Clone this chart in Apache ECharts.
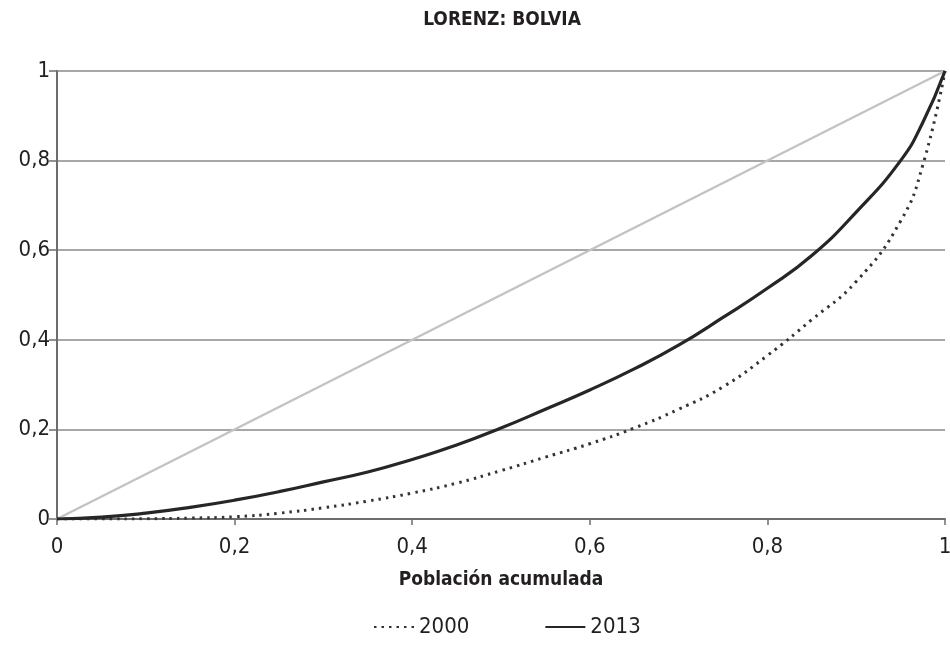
<!DOCTYPE html>
<html>
<head>
<meta charset="utf-8">
<script src="https://cdn.jsdelivr.net/npm/echarts@6/dist/echarts.min.js"></script>
<style>html,body{margin:0;padding:0;background:#fff}#c{width:950px;height:645px}</style>
</head>
<body>
<div id="c"></div>
<script>
var popShare   = [0, 0.05, 0.1, 0.15, 0.2, 0.25, 0.3, 0.35, 0.4, 0.45, 0.5, 0.55, 0.6, 0.65, 0.7, 0.75, 0.8, 0.85, 0.9, 0.95, 0.975, 1];
var share2000  = [0, 0, 0.0005, 0.002, 0.005, 0.013, 0.025, 0.04, 0.058, 0.08, 0.108, 0.138, 0.168, 0.203, 0.245, 0.295, 0.365, 0.445, 0.53, 0.665, 0.79, 1];
var share2013  = [0, 0.004, 0.013, 0.026, 0.042, 0.061, 0.083, 0.105, 0.133, 0.165, 0.203, 0.245, 0.288, 0.335, 0.388, 0.45, 0.515, 0.588, 0.685, 0.80, 0.885, 1];
var equalityX  = [0, 1];
var equalityY  = [0, 1];
var seriesNames = ['2000', '2013'];

function pairs(xs, ys){ return xs.map(function(x,i){ return [x, ys[i]]; }); }
function fmt(v){ return String(+v.toFixed(2)).replace('.', ','); }

var FONT = '"DejaVu Sans Condensed","Liberation Sans Narrow","Roboto",sans-serif';
var TXT = '#231f20';

var chart = echarts.init(document.getElementById('c'), null, {renderer:'canvas'});
chart.setOption({
  animation:false,
  backgroundColor:'#fff',
  title:{ text:'LORENZ: BOLVIA', left:497, textAlign:'center', top:6,
    textStyle:{ fontFamily:FONT, fontWeight:'bold', fontSize:19, color:TXT } },
  grid:{ left:57, right:5, top:71, bottom:126, containLabel:false, outerBoundsMode:'none' },
  xAxis:{ type:'value', min:0, max:1, interval:0.2,
    name:'Población acumulada', nameLocation:'middle', nameGap:52,
    nameTextStyle:{ fontFamily:FONT, fontWeight:'bold', fontSize:19, color:TXT },
    axisLine:{ show:true, lineStyle:{ color:'#6d6d6d', width:2 } },
    axisTick:{ show:true, length:6, lineStyle:{ color:'#6d6d6d', width:1.5 } },
    axisLabel:{ fontFamily:FONT, fontSize:22, color:TXT, margin:17, formatter:fmt },
    splitLine:{ show:false } },
  yAxis:{ type:'value', min:0, max:1, interval:0.2,
    axisLine:{ show:true, lineStyle:{ color:'#6d6d6d', width:2 } },
    axisTick:{ show:true, length:8, lineStyle:{ color:'#6d6d6d', width:1.5 } },
    axisLabel:{ fontFamily:FONT, fontSize:22, color:TXT, margin:7, formatter:fmt },
    splitLine:{ show:true, lineStyle:{ color:'#8a8a8a', width:1.5 } } },
  legend:{ data:seriesNames, bottom:2, left:368, itemWidth:40, itemHeight:14, itemGap:75,
    itemStyle:{ opacity:0 },
    textStyle:{ fontFamily:FONT, fontSize:22, color:TXT } },
  series:[
    { name:'equality', type:'line', data:pairs(equalityX, equalityY), showSymbol:false, symbol:'none',
      lineStyle:{ color:'#c3c3c3', width:2.5 }, silent:true, z:1 },
    { name:seriesNames[0], type:'line', data:pairs(popShare, share2000), smooth:0.5,
      showSymbol:false, symbol:'none',
      itemStyle:{ color:'#333' },
      lineStyle:{ color:'#333', width:3, type:[2.5,5] }, z:2 },
    { name:seriesNames[1], type:'line', data:pairs(popShare, share2013), smooth:0.5,
      showSymbol:false, symbol:'none',
      itemStyle:{ color:'#262626' },
      lineStyle:{ color:'#262626', width:3.2 }, z:3 }
  ]
});
</script>
</body>
</html>
